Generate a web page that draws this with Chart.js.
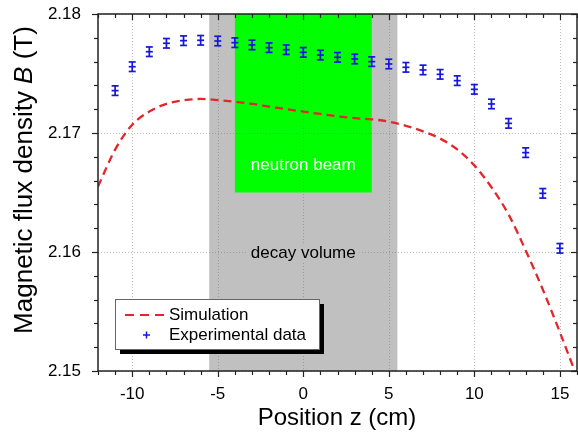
<!DOCTYPE html>
<html>
<head>
<meta charset="utf-8">
<script src="https://cdn.jsdelivr.net/npm/chart.js@4/dist/chart.umd.min.js"></script>
<style>
  html, body { margin: 0; padding: 0; background: #ffffff; }
</style>
</head>
<body>
<canvas id="maingraph" width="578" height="441"></canvas>
<script>
// axis ticks
const xTicks = [-10, -5, 0, 5, 10, 15];
const yTicks = [2.15, 2.16, 2.17, 2.18];

// simulation curve (z in cm, B in T)
const simZ = [-12, -11, -10, -9, -8, -7, -6, -5, -4, -3, -2, -1, 0, 1, 2, 3, 4, 5, 6, 7, 8, 9, 10, 11, 12, 13, 14, 15, 16];
const simB = [2.16550, 2.16860, 2.17070, 2.17180, 2.17245, 2.17275, 2.17286, 2.17277, 2.17262, 2.17245, 2.17222,
              2.17200, 2.17180, 2.17160, 2.17140, 2.17125, 2.17115, 2.17096, 2.17060, 2.17014, 2.16953, 2.16862,
              2.16728, 2.16544, 2.16315, 2.16013, 2.15685, 2.15325, 2.14950];

// measured field
const expZ = [-11, -10, -9, -8, -7, -6, -5, -4, -3, -2, -1, 0, 1, 2, 3, 4, 5, 6, 7, 8, 9, 10, 11, 12, 13, 14, 15];
const expB = [2.17356, 2.17557, 2.17683, 2.17754, 2.17776, 2.17779, 2.17773, 2.17759, 2.17740, 2.17717, 2.17700,
              2.17678, 2.17655, 2.17636, 2.17622, 2.17600, 2.17580, 2.17552, 2.17530, 2.17493, 2.17440, 2.17367,
              2.17244, 2.17081, 2.16835, 2.16493, 2.16031];
const expErr = [0.0004, 0.0004, 0.0004, 0.0004, 0.0004, 0.0004, 0.0004, 0.0004, 0.0004, 0.0004, 0.0004, 0.0004,
                0.0004, 0.0004, 0.0004, 0.0004, 0.0004, 0.0004, 0.0004, 0.0004, 0.0004, 0.0004, 0.0004, 0.0004,
                0.0004, 0.0004, 0.0004];

// shaded regions
const decayVolume = [-5.5, 5.5];
const neutronBeam = [-4, 4];
const neutronBeamLow = 2.165;

const FONT = '"Liberation Sans", Arial, sans-serif';
const RED = "#e3262b";
const BLUE = "#1616dc";

function seg(ctx, x0, y0, x1, y1) {
  ctx.beginPath();
  ctx.moveTo(x0, y0);
  ctx.lineTo(x1, y1);
  ctx.stroke();
}

const figurePlugin = {
  id: "figure",
  beforeDatasetsDraw(chart) {
    const { ctx, chartArea: a, scales: { x, y } } = chart;
    ctx.save();
    // decay volume + neutron beam boxes
    let p0 = x.getPixelForValue(decayVolume[0]), p1 = x.getPixelForValue(decayVolume[1]);
    ctx.fillStyle = "#c0c0c0";
    ctx.fillRect(p0, a.top, p1 - p0, a.bottom - a.top);
    p0 = x.getPixelForValue(neutronBeam[0]); p1 = x.getPixelForValue(neutronBeam[1]);
    ctx.fillStyle = "#00ff00";
    ctx.fillRect(p0, a.top, p1 - p0, y.getPixelForValue(neutronBeamLow) - a.top);

    // dotted grid
    ctx.strokeStyle = "rgba(110,110,110,0.45)";
    ctx.lineWidth = 1;
    ctx.setLineDash([1, 2]);
    xTicks.forEach(v => {
      const px = Math.round(x.getPixelForValue(v)) + 0.5;
      seg(ctx, px, a.top, px, a.bottom);
    });
    yTicks.forEach(v => {
      const py = Math.round(y.getPixelForValue(v)) + 0.5;
      seg(ctx, a.left, py, a.right, py);
    });
    ctx.setLineDash([]);

    // region labels
    ctx.font = "17px " + FONT;
    ctx.textAlign = "center";
    ctx.textBaseline = "middle";
    ctx.fillStyle = "#ffffff";
    ctx.fillText("neutron beam", x.getPixelForValue(0), y.getPixelForValue(2.1673));
    const dy = y.getPixelForValue(2.1599);
    const w = ctx.measureText("decay volume").width;
    ctx.fillStyle = "#c0c0c0";
    ctx.fillRect(x.getPixelForValue(0) - w / 2 - 4, dy - 9, w + 8, 18);
    ctx.fillStyle = "#000000";
    ctx.fillText("decay volume", x.getPixelForValue(0), dy);
    ctx.restore();
  },
  afterDatasetsDraw(chart) {
    const { ctx, scales: { x, y } } = chart;
    ctx.save();
    // error bars
    ctx.strokeStyle = BLUE;
    ctx.lineWidth = 1.7;
    expZ.forEach((z, i) => {
      const px = x.getPixelForValue(z);
      const top = y.getPixelForValue(expB[i] + expErr[i]);
      const bot = y.getPixelForValue(expB[i] - expErr[i]);
      seg(ctx, px, top, px, bot);
      seg(ctx, px - 3.5, top, px + 3.5, top);
      seg(ctx, px - 3.5, bot, px + 3.5, bot);
    });
    ctx.restore();
  },
  afterDraw(chart) {
    const { ctx, chartArea: a, scales: { x, y } } = chart;
    ctx.save();
    // frame
    ctx.strokeStyle = "#222222";
    ctx.lineWidth = 1.5;
    ctx.strokeRect(a.left, a.top, a.right - a.left, a.bottom - a.top);

    // ticks: bottom/left outward, top/right inward
    ctx.lineWidth = 1.2;
    for (let v = -12; v <= 16; v++) {
      const px = Math.round(x.getPixelForValue(v)) + 0.5;
      const len = v % 5 === 0 ? 6 : 4;
      seg(ctx, px, a.bottom, px, a.bottom + len);
      seg(ctx, px, a.top, px, a.top + len);
    }
    for (let k = 0; k <= 15; k++) {
      const v = 2.15 + k * 0.002;
      const py = Math.round(y.getPixelForValue(v)) + 0.5;
      const len = k % 5 === 0 ? 6 : 4;
      seg(ctx, a.left - len, py, a.left, py);
      seg(ctx, a.right - len, py, a.right, py);
    }

    // axis titles
    ctx.fillStyle = "#000000";
    ctx.textBaseline = "alphabetic";
    ctx.font = "24px " + FONT;
    ctx.textAlign = "center";
    ctx.fillText("Position z (cm)", 337, 425);

    const parts = [["Magnetic flux density ", ""], ["B", "italic "], [" (T)", ""]];
    ctx.translate(32, 180);
    ctx.rotate(-Math.PI / 2);
    let total = 0;
    parts.forEach(p => { ctx.font = p[1] + "26px " + FONT; total += ctx.measureText(p[0]).width; });
    let cx = -total / 2;
    ctx.textAlign = "left";
    parts.forEach(p => {
      ctx.font = p[1] + "26px " + FONT;
      ctx.fillText(p[0], cx, 0);
      cx += ctx.measureText(p[0]).width;
    });
    ctx.setTransform(1, 0, 0, 1, 0, 0);

    // legend with drop shadow
    const L = { x: 115, y: 299, w: 204, h: 50 };
    ctx.fillStyle = "#000000";
    ctx.fillRect(L.x + 5, L.y + 5, L.w, L.h);
    ctx.fillStyle = "#ffffff";
    ctx.fillRect(L.x, L.y, L.w, L.h);
    ctx.strokeStyle = "#666666";
    ctx.lineWidth = 1;
    ctx.strokeRect(L.x + 0.5, L.y + 0.5, L.w, L.h);

    const ds = chart.data.datasets;
    ctx.strokeStyle = RED;
    ctx.lineWidth = 2;
    ctx.setLineDash([9, 6]);
    seg(ctx, 125, 315, 167, 315);
    ctx.setLineDash([]);
    ctx.strokeStyle = BLUE;
    ctx.lineWidth = 1.5;
    seg(ctx, 143, 335, 150, 335);
    seg(ctx, 146.5, 331.5, 146.5, 338.5);
    ctx.fillStyle = "#000000";
    ctx.font = "17px " + FONT;
    ctx.textBaseline = "middle";
    ctx.fillText(ds[0].label, 169, 315);
    ctx.fillText(ds[1].label, 169, 335);
    ctx.restore();
  }
};

const ctx = document.getElementById("maingraph");

new Chart(ctx, {
  type: "line",
  data: {
    datasets: [
      {
        label: "Simulation",
        data: simZ.map((z, i) => ({ x: z, y: simB[i] })),
        borderColor: RED,
        borderWidth: 2.3,
        borderDash: [8, 5],
        pointRadius: 0,
        cubicInterpolationMode: "monotone",
        fill: false,
      },
      {
        label: "Experimental data",
        data: expZ.map((z, i) => ({ x: z, y: expB[i] })),
        showLine: false,
        pointStyle: "line",
        pointRadius: 3.5,
        borderColor: BLUE,
        backgroundColor: BLUE,
        borderWidth: 1.7,
      },
    ],
  },
  options: {
    responsive: false,
    animation: false,
    events: [],
    layout: { autoPadding: false, padding: { top: 14, right: 1, left: 0, bottom: 0 } },
    plugins: { legend: { display: false }, tooltip: { enabled: false } },
    scales: {
      x: {
        type: "linear",
        min: -12,
        max: 16,
        afterBuildTicks: s => { s.ticks = xTicks.map(v => ({ value: v })); },
        afterFit: s => { s.height = 70; s.paddingLeft = 0; s.paddingRight = 0; },
        grid: { display: false, drawTicks: false },
        border: { display: false },
        ticks: { color: "#000", font: { family: FONT, size: 17 }, padding: 13, maxRotation: 0, autoSkip: false },
      },
      y: {
        type: "linear",
        min: 2.15,
        max: 2.18,
        afterBuildTicks: s => { s.ticks = yTicks.map(v => ({ value: v })); },
        afterFit: s => { s.width = 98; s.paddingTop = 0; s.paddingBottom = 0; },
        grid: { display: false, drawTicks: false },
        border: { display: false },
        ticks: { color: "#000", font: { family: FONT, size: 17 }, padding: 17, callback: v => v.toFixed(2) },
      },
    },
  },
  plugins: [figurePlugin],
});
</script>
</body>
</html>
